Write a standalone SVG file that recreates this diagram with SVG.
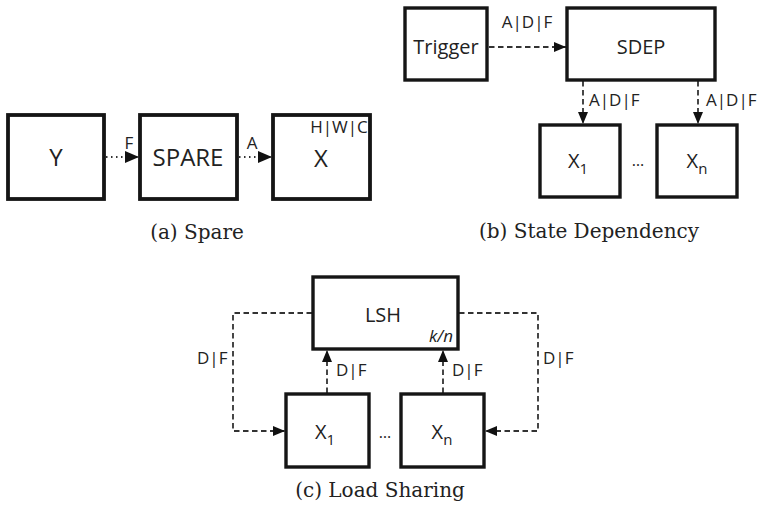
<svg xmlns="http://www.w3.org/2000/svg" width="760" height="514" viewBox="0 0 760 514">
<defs>
<marker id="ah" viewBox="0 0 12 10" refX="12" refY="5" markerWidth="12" markerHeight="10" markerUnits="userSpaceOnUse" orient="auto">
<path d="M0,0 L12,5 L0,10 Z" fill="#111"/>
</marker>
<marker id="ahb" viewBox="0 0 14 12" refX="14" refY="6" markerWidth="14" markerHeight="12" markerUnits="userSpaceOnUse" orient="auto">
<path d="M0,0 L14,6 L0,12 Z" fill="#111"/>
</marker>
</defs>
<style>
.box{fill:#fff;stroke:#151515;stroke-width:3.4}
.boxa{fill:#fff;stroke:#151515;stroke-width:3.8}
.t{font-family:"Open Sans","Noto Sans",sans-serif;fill:#222;text-anchor:middle}
.ta{font-size:24px}
.tb{font-size:20px}
.lbl{font-family:"Open Sans","Noto Sans",sans-serif;fill:#222;font-size:17px}
.cap{font-family:"DejaVu Serif","Liberation Serif",serif;fill:#222;font-size:20px;text-anchor:middle}
.dot{fill:none;stroke:#333;stroke-width:1.8;stroke-dasharray:1.5 3.5}
.dash{fill:none;stroke:#333;stroke-width:1.8;stroke-dasharray:5.5 3.5}
</style>
<g id="connectors">
<path class="dot" d="M106,157 H139" marker-end="url(#ahb)"/>
<path class="dot" d="M239,157 H272" marker-end="url(#ahb)"/>
<path class="dash" d="M489,47 H566" marker-end="url(#ah)"/>
<path class="dash" d="M583,81 V124" marker-end="url(#ah)"/>
<path class="dash" d="M698,81 V124" marker-end="url(#ah)"/>
<path class="dash" d="M327,393 V350" marker-end="url(#ah)"/>
<path class="dash" d="M443,393 V350" marker-end="url(#ah)"/>
<path class="dash" d="M312,313 H233 V431 H285" marker-end="url(#ah)"/>
<path class="dash" d="M459,313 H538 V431 H485" marker-end="url(#ah)"/>
<text class="lbl" x="129" y="149" text-anchor="middle" font-size="20">F</text>
<text class="lbl" x="252" y="149" text-anchor="middle" font-size="20">A</text>
<text class="lbl" x="527" y="28" text-anchor="middle">A|D|F</text>
<text class="lbl" x="589" y="106">A|D|F</text>
<text class="lbl" x="706" y="106">A|D|F</text>
<text class="lbl" x="336" y="376">D|F</text>
<text class="lbl" x="452" y="376">D|F</text>
<text class="lbl" x="197" y="364">D|F</text>
<text class="lbl" x="543" y="364">D|F</text>
</g>
<g id="node-Y">
<rect class="boxa" x="8" y="115" width="96" height="84"/>
<text class="t ta" x="56" y="166">Y</text>
</g>
<g id="node-SPARE">
<rect class="boxa" x="140" y="115" width="97" height="84"/>
<text class="t ta" x="188" y="166">SPARE</text>
</g>
<g id="node-X">
<rect class="boxa" x="273" y="115" width="97" height="84"/>
<text class="t ta" x="321" y="167">X</text>
<text class="lbl" x="339" y="133" font-size="15" text-anchor="middle">H|W|C</text>
</g>
<text class="cap" x="197" y="239">(a) Spare</text>
<g id="node-Trigger">
<rect class="box" x="405" y="8" width="82" height="72"/>
<text class="t tb" x="446" y="54" font-size="21">Trigger</text>
</g>
<g id="node-SDEP">
<rect class="box" x="567" y="8" width="148" height="72"/>
<text class="t tb" x="641" y="54">SDEP</text>
</g>
<g id="node-X1b">
<rect class="box" x="540" y="125" width="80" height="72"/>
<text class="t tb" x="578" y="168">X<tspan font-size="15" dy="6">1</tspan></text>
</g>
<g id="node-Xnb">
<rect class="box" x="657" y="125" width="80" height="72"/>
<text class="t tb" x="697" y="168">X<tspan font-size="15" dy="6">n</tspan></text>
</g>
<text class="t" x="638" y="166" font-size="16">…</text>
<text class="cap" x="589" y="238">(b) State Dependency</text>
<g id="node-LSH">
<rect class="box" x="313" y="277" width="145" height="72"/>
<text class="t tb" x="383" y="322">LSH</text>
<text class="lbl" x="453" y="342" text-anchor="end" font-style="italic">k/n</text>
</g>
<g id="node-X1c">
<rect class="box" x="286" y="394" width="83" height="73"/>
<text class="t tb" x="325" y="439">X<tspan font-size="15" dy="6">1</tspan></text>
</g>
<g id="node-Xnc">
<rect class="box" x="401" y="394" width="83" height="73"/>
<text class="t tb" x="442" y="439">X<tspan font-size="15" dy="6">n</tspan></text>
</g>
<text class="t" x="385" y="438" font-size="16">…</text>
<text class="cap" x="380" y="497">(c) Load Sharing</text>
</svg>
